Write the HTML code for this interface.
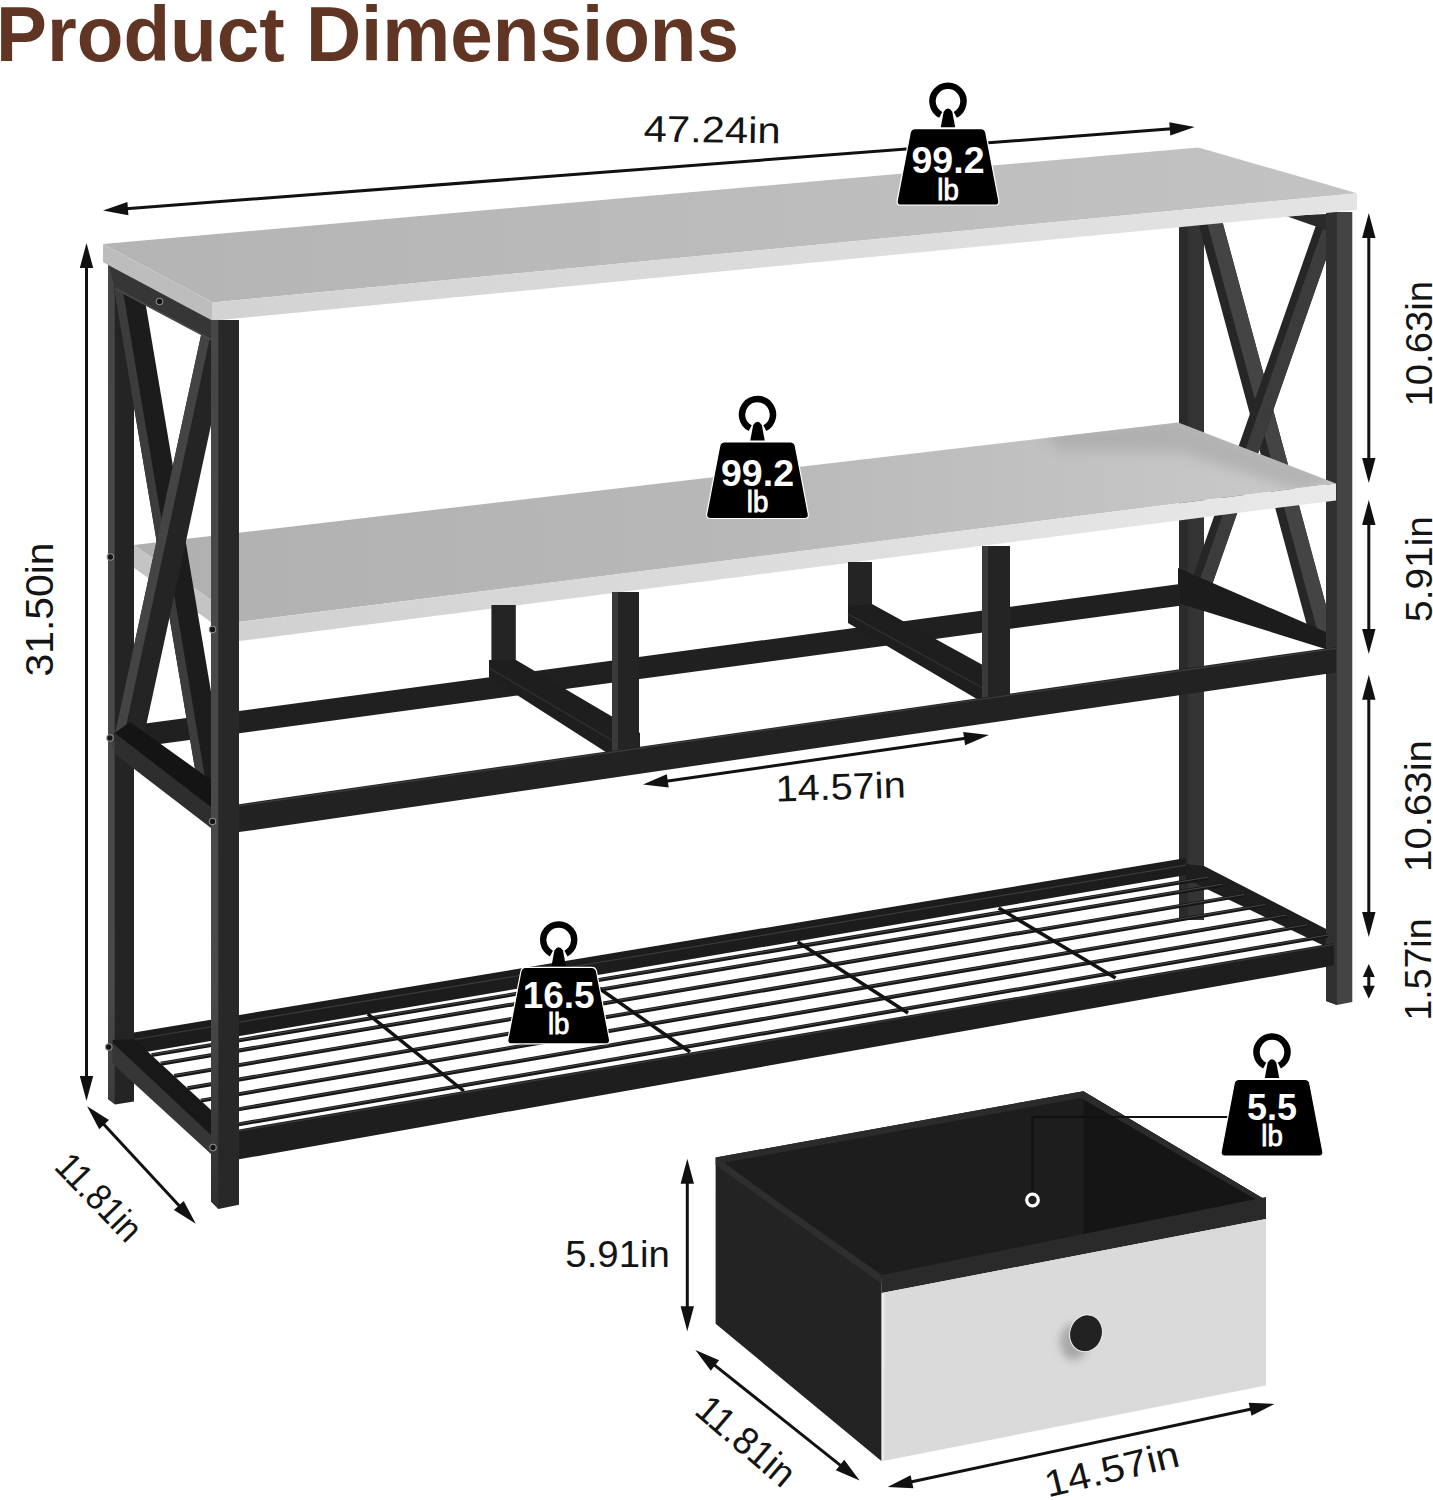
<!DOCTYPE html>
<html><head><meta charset="utf-8"><title>Product Dimensions</title>
<style>
html,body{margin:0;padding:0;background:#fff;}
body{width:1433px;height:1500px;overflow:hidden;}
svg{display:block;font-family:"Liberation Sans",sans-serif;}
</style></head>
<body>
<svg width="1433" height="1500" viewBox="0 0 1433 1500">
<rect width="1433" height="1500" fill="#fff"/>
<defs><linearGradient id="gTopT" gradientUnits="userSpaceOnUse" x1="100" y1="0" x2="1360" y2="0"><stop offset="0" stop-color="#b4b4b4"/><stop offset="1" stop-color="#c3c3c3"/></linearGradient><linearGradient id="gTopF" gradientUnits="userSpaceOnUse" x1="210" y1="0" x2="1360" y2="0"><stop offset="0" stop-color="#d3d3d3"/><stop offset="1" stop-color="#e4e4e4"/></linearGradient><linearGradient id="gMidT" gradientUnits="userSpaceOnUse" x1="130" y1="0" x2="1340" y2="0"><stop offset="0" stop-color="#b0b0b0"/><stop offset="0.5" stop-color="#b8b8b8"/><stop offset="1" stop-color="#cacaca"/></linearGradient><linearGradient id="gMidF" gradientUnits="userSpaceOnUse" x1="239" y1="0" x2="1340" y2="0"><stop offset="0" stop-color="#d1d1d1"/><stop offset="1" stop-color="#e9e9e9"/></linearGradient><filter id="blr2" x="-20%" y="-50%" width="140%" height="200%"><feGaussianBlur stdDeviation="6"/></filter><linearGradient id="gLegL" gradientUnits="userSpaceOnUse" x1="0" y1="300" x2="0" y2="1210"><stop offset="0" stop-color="#464646"/><stop offset="0.75" stop-color="#4a4a4a"/><stop offset="1" stop-color="#303030"/></linearGradient></defs>
<text x="-4" y="61" font-size="77.5" text-anchor="start" font-weight="bold" fill="#603523" textLength="743" lengthAdjust="spacingAndGlyphs">Product Dimensions</text>
<line x1="122.9" y1="209.0" x2="1174.8" y2="128.5" stroke="#111" stroke-width="3"/>
<polygon points="1194.7,127.0 1170.3,135.6 1169.3,122.2" fill="#111"/>
<polygon points="103.0,210.5 127.4,201.9 128.4,215.3" fill="#111"/>
<text x="643.5" y="141.5" font-size="37" text-anchor="start" font-weight="normal" fill="#141414" textLength="137" lengthAdjust="spacingAndGlyphs" transform="rotate(0.8 643.5 141.5)">47.24in</text>
<line x1="86.5" y1="263.0" x2="86.5" y2="1081.0" stroke="#111" stroke-width="3"/>
<polygon points="86.5,1101.0 79.8,1076.0 93.2,1076.0" fill="#111"/>
<polygon points="86.5,243.0 93.2,268.0 79.8,268.0" fill="#111"/>
<text x="52.5" y="676.5" font-size="38" text-anchor="start" font-weight="normal" fill="#141414" textLength="134" lengthAdjust="spacingAndGlyphs" transform="rotate(-90 52.5 676.5)">31.50in</text>
<polygon points="108.0,262.0 134.0,262.0 134.0,1101.5 115.0,1104.5 108.0,1099.0" fill="#242424"/>
<polygon points="108.0,262.0 114.7,262.0 114.7,1104.0 108.0,1099.0" fill="url(#gLegL)"/>
<rect x="1179" y="224" width="25" height="696" fill="#343434"/>
<rect x="1179" y="224" width="9" height="696" fill="#2b2b2b"/>
<polygon points="1198.0,222.0 1222.5,222.0 1336.7,645.0 1312.2,645.0" fill="#262626"/>
<polygon points="1207.0,222.0 1222.5,222.0 1336.7,645.0 1321.2,645.0" fill="#444444"/>
<polygon points="1317.1,222.0 1339.1,222.0 1208.5,595.0 1186.5,595.0" fill="#262626"/>
<polygon points="1325.1,222.0 1339.1,222.0 1208.5,595.0 1194.5,595.0" fill="#3c3c3c"/>
<polygon points="1286.0,216.0 1326.0,214.0 1326.0,230.0" fill="#2a2a2a"/>
<polygon points="1178.0,568.0 1335.0,636.0 1335.0,652.0 1178.0,603.0" fill="#1c1c1c"/>
<polygon points="134.0,725.1 1180.0,584.0 1180.0,605.7 134.0,747.6" fill="#202020"/>
<polygon points="134.0,1032.5 1186.0,858.1 1186.0,875.1 134.0,1053.9" fill="#1c1c1c"/>
<line x1="134.0" y1="1039.5" x2="1186.0" y2="865.1" stroke="#3a3a3a" stroke-width="1.2"/>
<polygon points="1186.0,864.0 1204.0,866.0 1329.0,930.5 1326.6,947.0 1186.0,879.0" fill="#1e1e1e"/>
<polygon points="1326.0,212.0 1352.3,212.0 1352.3,1002.0 1336.8,1005.0 1326.0,1001.0" fill="#444444"/>
<polygon points="1326.0,212.0 1336.8,212.0 1336.8,1005.0 1326.0,1001.0" fill="#303030"/>
<polygon points="134.0,545.0 1178.0,422.6 1336.0,483.5 239.0,622.0 211.0,600.0" fill="url(#gMidT)"/>
<polygon points="134.0,545.0 211.0,600.0 211.0,622.0 134.0,568.0" fill="#c4c4c4"/>
<clipPath id="cpMid"><polygon points="134,545 1178,422.6 1336,483.5 239,622 211,600"/></clipPath>
<g clip-path="url(#cpMid)"><polygon points="1040,432 1178,418 1340,480 1300,490 1180,452 1060,450" fill="#9a9a9a" opacity="0.45" filter="url(#blr2)"/></g>
<polygon points="239.0,622.0 1336.0,483.5 1336.0,500.4 239.0,641.1" fill="url(#gMidF)"/>
<polygon points="113.6,286.0 142.6,286.0 230.6,808.0 201.6,808.0" fill="#1c1c1c"/>
<polygon points="113.6,286.0 122.1,286.0 210.1,808.0 201.6,808.0" fill="#3c3c3c"/>
<polygon points="201.3,334.0 230.7,334.0 141.3,748.0 111.9,748.0" fill="#242424"/>
<polygon points="201.3,334.0 210.7,334.0 121.3,748.0 111.9,748.0" fill="#444444"/>
<polygon points="108.0,262.0 211.0,318.0 211.0,340.0 115.0,289.0" fill="#363636"/>
<line x1="115.0" y1="288.5" x2="211.0" y2="339.5" stroke="#4a4a4a" stroke-width="1.5"/>
<circle cx="159.5" cy="301.5" r="3.2" fill="#151515" stroke="#8a8a8a" stroke-width="1.1"/>
<polygon points="114.7,742.0 114.7,733.0 130.0,722.0 211.0,780.0 211.0,815.0" fill="#141414"/>
<polygon points="114.7,733.0 211.0,807.0 211.0,828.0 114.7,754.0" fill="#2e2e2e"/>
<circle cx="110" cy="738" r="3.2" fill="#151515" stroke="#8a8a8a" stroke-width="1.1"/>
<circle cx="110.4" cy="557" r="3.2" fill="#151515" stroke="#8a8a8a" stroke-width="1.1"/>
<rect x="491.4" y="605" width="24.4" height="60" fill="#242424"/>
<rect x="848" y="562" width="24" height="60" fill="#242424"/>
<polygon points="489.0,660.0 516.0,660.0 640.0,733.0 640.0,753.0 612.0,756.0 489.0,677.0" fill="#1e1e1e"/>
<line x1="489.0" y1="668.0" x2="620.0" y2="745.0" stroke="#333" stroke-width="1.2"/>
<polygon points="848.0,606.0 872.0,604.0 1010.0,680.0 1010.0,699.0 982.0,702.0 848.0,623.0" fill="#1e1e1e"/>
<line x1="848.0" y1="614.0" x2="990.0" y2="692.0" stroke="#333" stroke-width="1.2"/>
<rect x="612" y="592" width="27" height="160" fill="#242424"/>
<rect x="612" y="592" width="6" height="160" fill="#3a3a3a"/>
<rect x="982" y="546" width="28" height="154" fill="#242424"/>
<rect x="982" y="546" width="6" height="154" fill="#3a3a3a"/>
<polygon points="239.0,804.2 1336.0,646.9 1336.0,672.4 239.0,832.1" fill="#222222"/>
<line x1="239.0" y1="805.7" x2="1336.0" y2="648.4" stroke="#3e3e3e" stroke-width="1.2"/>
<line x1="151.5" y1="1055.1" x2="1208.2" y2="877.7" stroke="#161616" stroke-width="4"/>
<line x1="151.5" y1="1054.5" x2="1208.2" y2="877.1" stroke="#555" stroke-width="0.8"/>
<line x1="160.7" y1="1063.7" x2="1222.6" y2="884.7" stroke="#161616" stroke-width="4"/>
<line x1="160.7" y1="1063.1" x2="1222.6" y2="884.1" stroke="#555" stroke-width="0.8"/>
<line x1="174.1" y1="1076.0" x2="1244.2" y2="895.1" stroke="#161616" stroke-width="4"/>
<line x1="174.1" y1="1075.4" x2="1244.2" y2="894.5" stroke="#555" stroke-width="0.8"/>
<line x1="187.5" y1="1088.3" x2="1265.0" y2="905.1" stroke="#161616" stroke-width="4"/>
<line x1="187.5" y1="1087.7" x2="1265.0" y2="904.5" stroke="#555" stroke-width="0.8"/>
<line x1="200.8" y1="1100.6" x2="1286.6" y2="915.6" stroke="#161616" stroke-width="4"/>
<line x1="200.8" y1="1100.0" x2="1286.6" y2="915.0" stroke="#555" stroke-width="0.8"/>
<line x1="214.7" y1="1113.4" x2="1307.0" y2="925.4" stroke="#161616" stroke-width="4"/>
<line x1="214.7" y1="1112.8" x2="1307.0" y2="924.8" stroke="#555" stroke-width="0.8"/>
<line x1="228.5" y1="1126.1" x2="1328.1" y2="935.6" stroke="#161616" stroke-width="4"/>
<line x1="228.5" y1="1125.5" x2="1328.1" y2="935.0" stroke="#555" stroke-width="0.8"/>
<line x1="367.8" y1="1014.0" x2="463.8" y2="1091.0" stroke="#121212" stroke-width="3.5"/>
<line x1="583.0" y1="977.0" x2="690.0" y2="1052.0" stroke="#121212" stroke-width="3.5"/>
<line x1="797.7" y1="942.0" x2="908.0" y2="1013.0" stroke="#121212" stroke-width="3.5"/>
<line x1="998.7" y1="908.0" x2="1115.6" y2="978.0" stroke="#121212" stroke-width="3.5"/>
<polygon points="112.6,1040.0 134.0,1039.0 211.0,1110.0 211.0,1145.0 112.6,1052.0" fill="#181818"/>
<polygon points="112.6,1042.8 211.0,1135.0 211.0,1154.0 112.6,1063.7" fill="#363636"/>
<circle cx="108.8" cy="1047" r="3.2" fill="#151515" stroke="#8a8a8a" stroke-width="1.1"/>
<polygon points="239.0,1129.4 1334.0,943.0 1334.0,965.6 239.0,1159.3" fill="#1e1e1e"/>
<line x1="239.0" y1="1130.9" x2="1334.0" y2="944.5" stroke="#3a3a3a" stroke-width="1.2"/>
<polygon points="103.0,244.0 1198.4,147.4 1357.0,193.2 212.6,302.4" fill="url(#gTopT)"/>
<polygon points="103.0,244.0 212.6,302.4 212.6,320.7 103.0,262.3" fill="#bdbdbd"/>
<polygon points="212.6,302.4 1357.0,193.2 1357.0,210.0 212.6,320.7" fill="url(#gTopF)"/>
<polygon points="211.0,320.0 239.0,320.0 239.0,1204.8 218.4,1209.0 211.0,1201.6" fill="#282828"/>
<polygon points="211.0,320.0 218.3,320.0 218.3,1208.8 211.0,1201.6" fill="url(#gLegL)"/>
<circle cx="212.5" cy="629.4" r="3.2" fill="#151515" stroke="#8a8a8a" stroke-width="1.1"/>
<circle cx="212.5" cy="821.4" r="3.2" fill="#151515" stroke="#8a8a8a" stroke-width="1.1"/>
<circle cx="213" cy="1147.5" r="3.2" fill="#151515" stroke="#8a8a8a" stroke-width="1.1"/>
<line x1="662.8" y1="781.7" x2="969.1" y2="737.8" stroke="#111" stroke-width="3"/>
<polygon points="988.9,735.0 965.1,745.2 963.2,731.9" fill="#111"/>
<polygon points="643.0,784.5 666.8,774.3 668.7,787.6" fill="#111"/>
<text x="776" y="801.5" font-size="37" text-anchor="start" font-weight="normal" fill="#141414" textLength="130" lengthAdjust="spacingAndGlyphs" transform="rotate(-1.8 776 801.5)">14.57in</text>
<line x1="1368.8" y1="233.0" x2="1368.8" y2="463.0" stroke="#111" stroke-width="3"/>
<polygon points="1368.8,483.0 1362.1,458.0 1375.5,458.0" fill="#111"/>
<polygon points="1368.8,213.0 1375.5,238.0 1362.1,238.0" fill="#111"/>
<line x1="1368.8" y1="520.0" x2="1368.8" y2="634.0" stroke="#111" stroke-width="3"/>
<polygon points="1368.8,654.0 1362.1,629.0 1375.5,629.0" fill="#111"/>
<polygon points="1368.8,500.0 1375.5,525.0 1362.1,525.0" fill="#111"/>
<line x1="1368.8" y1="694.7" x2="1368.8" y2="917.0" stroke="#111" stroke-width="3"/>
<polygon points="1368.8,937.0 1362.1,912.0 1375.5,912.0" fill="#111"/>
<polygon points="1368.8,674.7 1375.5,699.7 1362.1,699.7" fill="#111"/>
<line x1="1368.8" y1="974.4" x2="1368.8" y2="988.3" stroke="#111" stroke-width="3"/>
<polygon points="1368.8,998.7 1362.8,985.7 1374.8,985.7" fill="#111"/>
<polygon points="1368.8,964.0 1374.8,977.0 1362.8,977.0" fill="#111"/>
<text x="1431.5" y="406.5" font-size="37" text-anchor="start" font-weight="normal" fill="#141414" textLength="125.5" lengthAdjust="spacingAndGlyphs" transform="rotate(-90 1431.5 406.5)">10.63in</text>
<text x="1431.5" y="622" font-size="37" text-anchor="start" font-weight="normal" fill="#141414" textLength="106" lengthAdjust="spacingAndGlyphs" transform="rotate(-90 1431.5 622)">5.91in</text>
<text x="1430.5" y="872" font-size="37" text-anchor="start" font-weight="normal" fill="#141414" textLength="132" lengthAdjust="spacingAndGlyphs" transform="rotate(-90 1430.5 872)">10.63in</text>
<text x="1430.5" y="1020.5" font-size="37" text-anchor="start" font-weight="normal" fill="#141414" textLength="102" lengthAdjust="spacingAndGlyphs" transform="rotate(-90 1430.5 1020.5)">1.57in</text>
<line x1="100.7" y1="1121.0" x2="182.2" y2="1209.1" stroke="#111" stroke-width="3"/>
<polygon points="195.8,1223.8 173.9,1210.0 183.7,1200.9" fill="#111"/>
<polygon points="87.1,1106.3 109.0,1120.1 99.2,1129.2" fill="#111"/>
<text x="53" y="1168" font-size="37.5" text-anchor="start" font-weight="normal" fill="#141414" textLength="106" lengthAdjust="spacingAndGlyphs" transform="rotate(46 53 1168)">11.81in</text>
<polygon points="715.6,1157.6 1083.3,1091.2 1266.0,1200.3 881.7,1278.6" fill="#1d1d1d"/>
<polygon points="1083.3,1091.2 1266.0,1200.3 1083.3,1237.5" fill="#151515"/>
<polygon points="715.6,1157.6 1083.3,1091.2 1266.0,1200.3 1262.0,1203.0 1081.0,1098.0 722.0,1163.0" fill="#2b2b2b"/>
<polygon points="715.6,1157.6 881.7,1278.6 881.7,1461.3 715.6,1323.7" fill="#232323"/>
<polygon points="881.7,1275.0 1266.0,1197.0 1266.0,1219.0 881.7,1293.0" fill="#2a2a2a"/>
<polygon points="715.6,1157.6 881.7,1275.0 881.7,1284.0 715.6,1165.0" fill="#2e2e2e"/>
<polygon points="881.7,1293.0 1266.0,1219.0 1266.0,1385.4 881.7,1461.3" fill="#dadada"/>
<line x1="883.0" y1="1293.5" x2="883.0" y2="1461.0" stroke="#ececec" stroke-width="2.5"/>
<defs><filter id="blr" x="-50%" y="-50%" width="200%" height="200%"><feGaussianBlur stdDeviation="4"/></filter></defs>
<ellipse cx="1074" cy="1342" rx="14" ry="18" fill="#a8a8a8" filter="url(#blr)"/>
<ellipse cx="1086" cy="1333.3" rx="16.2" ry="18.6" transform="rotate(18 1086 1333.3)" fill="#222" stroke="#f0f0f0" stroke-width="1"/>
<polyline points="1229,1117 1032.5,1117 1032.5,1194" fill="none" stroke="#111" stroke-width="2"/>
<circle cx="1032.5" cy="1200" r="5.8" fill="none" stroke="#fff" stroke-width="3.2"/>
<line x1="687.3" y1="1178.7" x2="687.3" y2="1311.3" stroke="#111" stroke-width="3"/>
<polygon points="687.3,1331.3 680.6,1306.3 694.0,1306.3" fill="#111"/>
<polygon points="687.3,1158.7 694.0,1183.7 680.6,1183.7" fill="#111"/>
<text x="565.3" y="1266.7" font-size="37" text-anchor="start" font-weight="normal" fill="#141414" textLength="104.6" lengthAdjust="spacingAndGlyphs">5.91in</text>
<line x1="711.1" y1="1362.4" x2="843.9" y2="1468.1" stroke="#111" stroke-width="3"/>
<polygon points="859.6,1480.5 835.9,1470.2 844.2,1459.7" fill="#111"/>
<polygon points="695.4,1350.0 719.1,1360.3 710.8,1370.8" fill="#111"/>
<text x="693" y="1413" font-size="38.5" text-anchor="start" font-weight="normal" fill="#141414" textLength="117" lengthAdjust="spacingAndGlyphs" transform="rotate(40.5 693 1413)">11.81in</text>
<line x1="907.2" y1="1482.8" x2="1254.9" y2="1408.2" stroke="#111" stroke-width="3"/>
<polygon points="1274.5,1404.0 1251.5,1415.8 1248.7,1402.7" fill="#111"/>
<polygon points="887.6,1487.0 910.6,1475.2 913.4,1488.3" fill="#111"/>
<text x="1048" y="1497.5" font-size="37.5" text-anchor="start" font-weight="normal" fill="#141414" textLength="137" lengthAdjust="spacingAndGlyphs" transform="rotate(-13.4 1048 1497.5)">14.57in</text>
<g transform="translate(948 128.7)">
<path d="M -7.3 -13.8 A 15.5 15.5 0 1 1 7.3 -13.8" fill="none" stroke="#000" stroke-width="6.5"/>
<path d="M -4.3 -17 Q 0 -23.5 4.3 -17 L 7.2 -1.5 L -7.2 -1.5 Z" fill="#000"/>
<path d="M -33 0 L 33 0 Q 37 0 37.8 4 L 50.8 72 Q 51.5 76.5 47 76.5 L -47 76.5 Q -51.5 76.5 -50.8 72 L -37.8 4 Q -37 0 -33 0 Z" fill="#000" stroke="#fff" stroke-width="1.2"/>
<text x="0" y="44.3" font-size="37" font-weight="bold" text-anchor="middle" fill="#fff" textLength="73" lengthAdjust="spacingAndGlyphs">99.2</text>
<text x="0" y="70.9" font-size="29" text-anchor="middle" fill="#fff" stroke="#fff" stroke-width="0.9" textLength="21.5" lengthAdjust="spacingAndGlyphs">lb</text>
</g>
<g transform="translate(757.5 442)">
<path d="M -7.3 -13.8 A 15.5 15.5 0 1 1 7.3 -13.8" fill="none" stroke="#000" stroke-width="6.5"/>
<path d="M -4.3 -17 Q 0 -23.5 4.3 -17 L 7.2 -1.5 L -7.2 -1.5 Z" fill="#000"/>
<path d="M -33 0 L 33 0 Q 37 0 37.8 4 L 50.8 72 Q 51.5 76.5 47 76.5 L -47 76.5 Q -51.5 76.5 -50.8 72 L -37.8 4 Q -37 0 -33 0 Z" fill="#000" stroke="#fff" stroke-width="1.2"/>
<text x="0" y="43.6" font-size="37" font-weight="bold" text-anchor="middle" fill="#fff" textLength="73" lengthAdjust="spacingAndGlyphs">99.2</text>
<text x="0" y="69.8" font-size="29" text-anchor="middle" fill="#fff" stroke="#fff" stroke-width="0.9" textLength="21.5" lengthAdjust="spacingAndGlyphs">lb</text>
</g>
<g transform="translate(558.7 967.4)">
<path d="M -7.3 -13.8 A 15.5 15.5 0 1 1 7.3 -13.8" fill="none" stroke="#000" stroke-width="6.5"/>
<path d="M -4.3 -17 Q 0 -23.5 4.3 -17 L 7.2 -1.5 L -7.2 -1.5 Z" fill="#000"/>
<path d="M -33 0 L 33 0 Q 37 0 37.8 4 L 50.8 72 Q 51.5 76.5 47 76.5 L -47 76.5 Q -51.5 76.5 -50.8 72 L -37.8 4 Q -37 0 -33 0 Z" fill="#000" stroke="#fff" stroke-width="1.2"/>
<text x="0" y="40.4" font-size="37" font-weight="bold" text-anchor="middle" fill="#fff" textLength="72" lengthAdjust="spacingAndGlyphs">16.5</text>
<text x="0" y="66.6" font-size="29" text-anchor="middle" fill="#fff" stroke="#fff" stroke-width="0.9" textLength="21.5" lengthAdjust="spacingAndGlyphs">lb</text>
</g>
<g transform="translate(1272 1079.5)">
<path d="M -7.3 -13.8 A 15.5 15.5 0 1 1 7.3 -13.8" fill="none" stroke="#000" stroke-width="6.5"/>
<path d="M -4.3 -17 Q 0 -23.5 4.3 -17 L 7.2 -1.5 L -7.2 -1.5 Z" fill="#000"/>
<path d="M -33 0 L 33 0 Q 37 0 37.8 4 L 50.8 72 Q 51.5 76.5 47 76.5 L -47 76.5 Q -51.5 76.5 -50.8 72 L -37.8 4 Q -37 0 -33 0 Z" fill="#000" stroke="#fff" stroke-width="1.2"/>
<text x="0" y="40.5" font-size="37" font-weight="bold" text-anchor="middle" fill="#fff" textLength="50" lengthAdjust="spacingAndGlyphs">5.5</text>
<text x="0" y="66.5" font-size="29" text-anchor="middle" fill="#fff" stroke="#fff" stroke-width="0.9" textLength="21.5" lengthAdjust="spacingAndGlyphs">lb</text>
</g>
</svg>
</body></html>
